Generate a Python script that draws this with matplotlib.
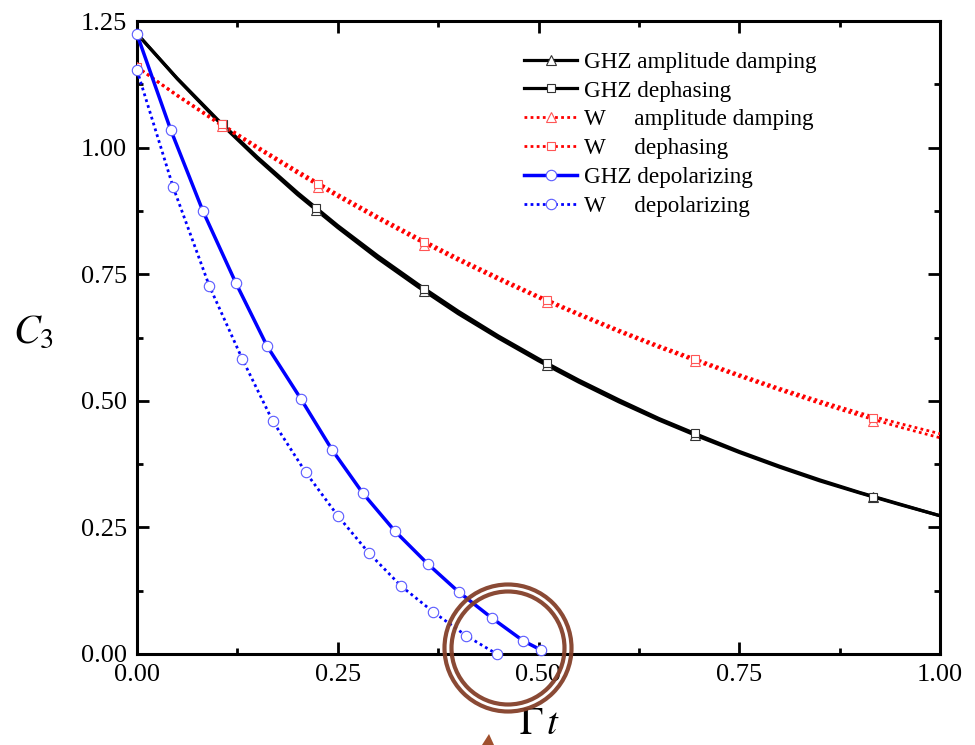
import matplotlib
matplotlib.use("Agg")
import matplotlib.pyplot as plt
from matplotlib.patches import Ellipse, Polygon
from matplotlib.ticker import MultipleLocator

plt.rcParams['font.family'] = ['Liberation Serif', 'DejaVu Serif']
plt.rcParams['mathtext.fontset'] = 'stix'

# ---------------- data ----------------
x_grid = [0.00, 0.05, 0.10, 0.15, 0.20, 0.25, 0.30, 0.35, 0.40, 0.45, 0.50,
          0.55, 0.60, 0.65, 0.70, 0.75, 0.80, 0.85, 0.90, 0.95, 1.00]

ghz_amp = [1.225, 1.136, 1.054, 0.978, 0.907, 0.842, 0.781, 0.725, 0.672, 0.624, 0.579,
           0.537, 0.498, 0.462, 0.429, 0.398, 0.369, 0.342, 0.318, 0.295, 0.273]
ghz_deph = [1.225, 1.137, 1.056, 0.981, 0.911, 0.846, 0.786, 0.730, 0.677, 0.628, 0.583,
            0.541, 0.502, 0.465, 0.432, 0.400, 0.371, 0.344, 0.319, 0.296, 0.273]
w_amp = [1.159, 1.102, 1.049, 0.998, 0.949, 0.903, 0.859, 0.817, 0.777, 0.739, 0.703,
         0.669, 0.636, 0.605, 0.576, 0.548, 0.521, 0.495, 0.471, 0.448, 0.427]
w_deph = [1.159, 1.104, 1.052, 1.002, 0.954, 0.908, 0.864, 0.822, 0.782, 0.744, 0.707,
          0.673, 0.640, 0.609, 0.580, 0.552, 0.525, 0.500, 0.476, 0.455, 0.435]

ghz_mark_x = [0.0, 0.107, 0.223, 0.357, 0.511, 0.695, 0.917]
ghz_amp_mark = [1.225, 1.044, 0.877, 0.717, 0.570, 0.432, 0.310]
ghz_deph_mark = [1.225, 1.046, 0.880, 0.721, 0.575, 0.436, 0.311]
w_mark_x = [0.0, 0.106, 0.225, 0.357, 0.511, 0.695, 0.917]
w_amp_mark = [1.159, 1.043, 0.923, 0.808, 0.695, 0.578, 0.461]
w_deph_mark = [1.159, 1.047, 0.928, 0.814, 0.700, 0.583, 0.467]

ghz_depol_x = [0.0, 0.042, 0.082, 0.123, 0.162, 0.204, 0.243, 0.281, 0.321,
               0.362, 0.401, 0.442, 0.481, 0.503]
ghz_depol = [1.224, 1.035, 0.875, 0.733, 0.608, 0.504, 0.403, 0.318, 0.243,
             0.178, 0.122, 0.071, 0.026, 0.008]
w_depol_x = [0.0, 0.045, 0.090, 0.131, 0.169, 0.210, 0.250, 0.289, 0.329,
             0.369, 0.410, 0.448]
w_depol = [1.153, 0.922, 0.727, 0.583, 0.460, 0.359, 0.273, 0.199, 0.134,
           0.083, 0.036, 0.000]

labels = ['GHZ amplitude damping', 'GHZ dephasing',
          'W     amplitude damping', 'W     dephasing',
          'GHZ depolarizing', 'W     depolarizing']

x_ticks = [0.00, 0.25, 0.50, 0.75, 1.00]
y_ticks = [0.00, 0.25, 0.50, 0.75, 1.00, 1.25]

# ---------------- figure ----------------
W, H = 975, 745
fig = plt.figure(figsize=(W / 100, H / 100), dpi=100)
ax = fig.add_axes([137 / W, 1 - 654 / H, (940 - 137) / W, (654 - 21) / H])

ms = 7
mew = 0.8
dot = (0, (1, 1.2))

# lines
ax.plot(x_grid, ghz_amp, color='black', lw=2.3, zorder=3)
ax.plot(x_grid, ghz_deph, color='black', lw=2.3, zorder=3)
ax.plot(x_grid, w_amp, color='red', lw=2.0, linestyle=dot, zorder=3)
ax.plot(x_grid, w_deph, color='red', lw=2.0, linestyle=dot, zorder=3)
ax.plot(ghz_depol_x, ghz_depol, color='blue', lw=2.5, zorder=3)
ax.plot(w_depol_x, w_depol, color='blue', lw=2.0, linestyle=dot, zorder=3)

# markers
ax.plot(ghz_mark_x, ghz_amp_mark, ls='none', marker='^', ms=ms, mfc='white',
        mec='#333333', mew=mew, zorder=4)
ax.plot(ghz_mark_x, ghz_deph_mark, ls='none', marker='s', ms=ms - 1, mfc='white',
        mec='#333333', mew=mew, zorder=4)
ax.plot(w_mark_x, w_amp_mark, ls='none', marker='^', ms=ms, mfc='white',
        mec='#ff5555', mew=mew, zorder=4)
ax.plot(w_mark_x, w_deph_mark, ls='none', marker='s', ms=ms - 1, mfc='white',
        mec='#ff5555', mew=mew, zorder=4)
ax.plot(ghz_depol_x, ghz_depol, ls='none', marker='o', ms=ms + 0.5, mfc='white',
        mec='#5a5aff', mew=mew, zorder=4, clip_on=False)
ax.plot(w_depol_x, w_depol, ls='none', marker='o', ms=ms + 0.5, mfc='white',
        mec='#5a5aff', mew=mew, zorder=4, clip_on=False)

# legend proxies
handles = [
    plt.Line2D([], [], color='black', lw=2.3, marker='^', ms=ms, mfc='white', mec='#333333', mew=mew),
    plt.Line2D([], [], color='black', lw=2.3, marker='s', ms=ms - 1, mfc='white', mec='#333333', mew=mew),
    plt.Line2D([], [], color='red', lw=2.0, ls=dot, marker='^', ms=ms, mfc='white', mec='#ff5555', mew=mew),
    plt.Line2D([], [], color='red', lw=2.0, ls=dot, marker='s', ms=ms - 1, mfc='white', mec='#ff5555', mew=mew),
    plt.Line2D([], [], color='blue', lw=2.5, marker='o', ms=ms + 0.5, mfc='white', mec='#5a5aff', mew=mew),
    plt.Line2D([], [], color='blue', lw=2.0, ls=dot, marker='o', ms=ms + 0.5, mfc='white', mec='#5a5aff', mew=mew),
]
leg = ax.legend(handles, labels, loc='upper left', bbox_to_anchor=(0.482, 0.952),
                frameon=False, fontsize=16.7, handlelength=2.3, handletextpad=0.3,
                labelspacing=0.33, borderpad=0, borderaxespad=0, numpoints=1)

# axes styling
ax.set_xlim(0, 1)
ax.set_ylim(0, 1.25)
ax.set_xticks(x_ticks)
ax.set_yticks(y_ticks)
ax.set_xticklabels([f'{v:.2f}' for v in x_ticks])
ax.set_yticklabels([f'{v:.2f}' for v in y_ticks])
ax.xaxis.set_minor_locator(MultipleLocator(0.125))
ax.yaxis.set_minor_locator(MultipleLocator(0.125))
ax.tick_params(which='both', direction='in', top=True, right=True, width=2.0)
ax.tick_params(which='major', length=8.5, labelsize=19)
ax.tick_params(which='minor', length=4.5)
ax.tick_params(axis='x', which='major', pad=7)
ax.tick_params(axis='y', which='major', pad=7)
for s in ax.spines.values():
    s.set_linewidth(2.2)

# axis labels
fig.text(33 / W, 1 - 333 / H, r'$C_{3}$', fontsize=29, ha='center', va='center')
fig.text(540 / W, 1 - 725 / H, r'$\Gamma\, t$', fontsize=28, ha='center', va='center')

# brown double ring annotation
for r in (63.5, 56.5):
    e = Ellipse((508 / W, 1 - 648 / H), 2 * r / W, 2 * r / H, transform=fig.transFigure,
                fill=False, edgecolor='#84402a', lw=3.0, alpha=0.95, zorder=10)
    fig.add_artist(e)
tip = Polygon([(482 / W, 1 - 745 / H), (489 / W, 1 - 734 / H), (494 / W, 1 - 745 / H)],
              closed=True, transform=fig.transFigure, facecolor='#a0502e',
              edgecolor='none', zorder=10)
fig.add_artist(tip)

fig.savefig('out.png', dpi=100)
